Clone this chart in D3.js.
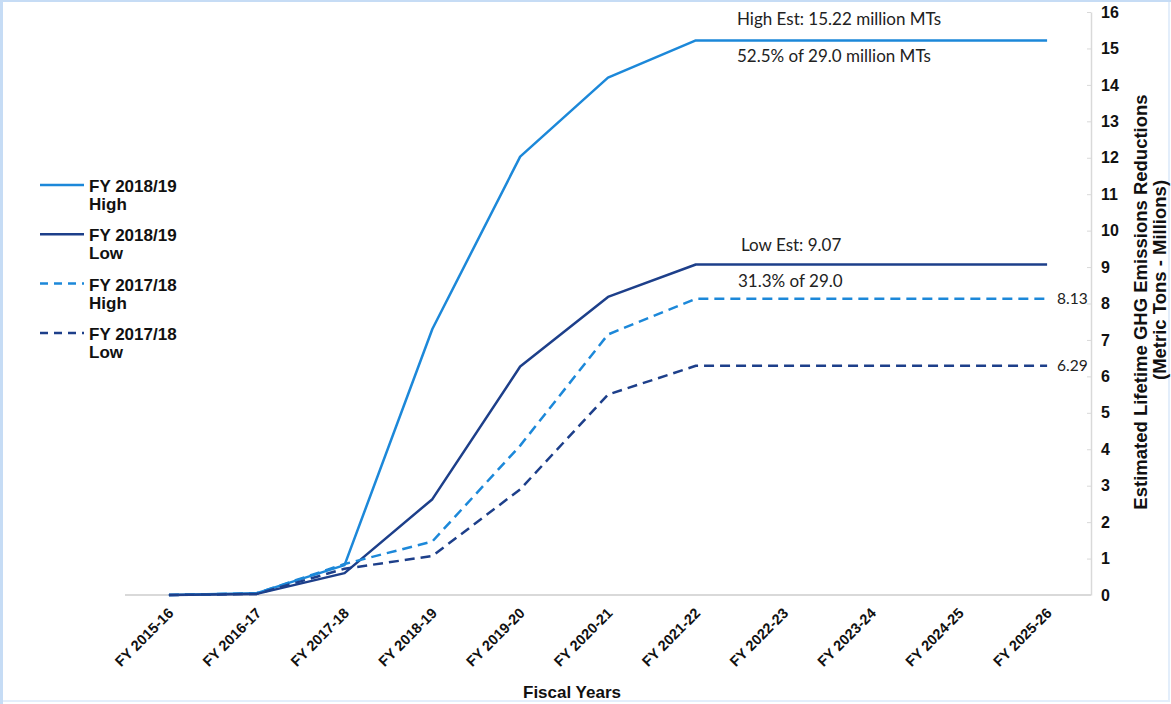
<!DOCTYPE html>
<html><head><meta charset="utf-8">
<script src="https://cdn.jsdelivr.net/npm/d3@7"></script>
<style>body{margin:0;background:#fff}svg{display:block}</style>
</head><body>
<svg id="c" width="1171" height="704"></svg>
<script>
const categories = ["FY 2015-16","FY 2016-17","FY 2017-18","FY 2018-19","FY 2019-20","FY 2020-21","FY 2021-22","FY 2022-23","FY 2023-24","FY 2024-25","FY 2025-26"];
const high1819 = [0, 0.05, 0.82, 7.3, 12.03, 14.2, 15.22, 15.22, 15.22, 15.22, 15.22];
const low1819  = [0, 0.03, 0.6, 2.63, 6.27, 8.18, 9.07, 9.07, 9.07, 9.07, 9.07];
const high1718 = [0, 0.05, 0.85, 1.47, 4.1, 7.15, 8.13, 8.13, 8.13, 8.13, 8.13];
const low1718  = [0, 0.03, 0.72, 1.07, 2.9, 5.5, 6.29, 6.29, 6.29, 6.29, 6.29];
const yTicks = [0,1,2,3,4,5,6,7,8,9,10,11,12,13,14,15,16];
const seriesNames = ["FY 2018/19|High","FY 2018/19|Low","FY 2017/18|High","FY 2017/18|Low"];

const LIGHT = "#1c88d9", DARK = "#1d3f8a";
const series = [
  {name: seriesNames[0], values: high1819, color: LIGHT, dash: null},
  {name: seriesNames[1], values: low1819, color: DARK, dash: null},
  {name: seriesNames[2], values: high1718, color: LIGHT, dash: "10,6"},
  {name: seriesNames[3], values: low1718, color: DARK, dash: "10,6"}
];

const svg = d3.select("#c");
// frame
svg.append("rect").attr("x",1).attr("y",1).attr("width",1168).attr("height",700)
  .attr("fill","none").attr("stroke","#e3eefb").attr("stroke-width",2);
svg.append("line").attr("x1",1.5).attr("x2",1.5).attr("y1",0).attr("y2",704).attr("stroke","#c6dcf5").attr("stroke-width",3);
svg.append("line").attr("x1",0).attr("x2",1171).attr("y1",1).attr("y2",1).attr("stroke","#c6dcf5").attr("stroke-width",2);

const pLeft = 125, pRight = 1091, pTop = 12, pBottom = 595;
const x = d3.scalePoint().domain(categories).range([pLeft, pRight]).padding(0.5);
const y = d3.scaleLinear().domain([0,16]).range([pBottom, pTop]);

// x baseline
svg.append("line").attr("x1",pLeft).attr("x2",pRight).attr("y1",pBottom).attr("y2",pBottom)
  .attr("stroke","#d9d9d9").attr("stroke-width",2);

// y axis on right
const yAxis = d3.axisRight(y).tickValues(yTicks).tickSize(0).tickPadding(10).tickFormat(d3.format("d"));
const ya = svg.append("g").attr("transform",`translate(${pRight},0)`).call(yAxis);
ya.select(".domain").attr("stroke","#d9d9d9").attr("stroke-width",1.5);
ya.selectAll(".tick text").attr("font-family","Liberation Sans, Arial, sans-serif")
  .attr("font-size",16).attr("font-weight","bold").attr("fill","#111").attr("x",10);
ya.selectAll(".tick").append("line").attr("x1",-4).attr("x2",0).attr("stroke","#d9d9d9");

// x axis labels
const xa = svg.append("g").attr("transform",`translate(0,${pBottom})`)
  .call(d3.axisBottom(x).tickSize(0).tickPadding(0));
xa.select(".domain").remove();
xa.selectAll(".tick text")
  .attr("font-family","Liberation Sans, Arial, sans-serif").attr("font-size",14.5).attr("font-weight","bold")
  .attr("fill","#111").attr("text-anchor","end").attr("dy",0)
  .attr("transform","translate(5,19) rotate(-45)");

// axis titles
svg.append("text").attr("x",572).attr("y",698).attr("text-anchor","middle")
  .attr("font-family","Liberation Sans, Arial, sans-serif").attr("font-size",17).attr("font-weight","bold")
  .attr("fill","#111").text("Fiscal Years");
const titleFont = {"font-family":"Liberation Sans, Arial, sans-serif","font-size":18.5,"font-weight":"bold","fill":"#111","text-anchor":"middle"};
const yt1 = svg.append("text").attr("transform","translate(1147,302) rotate(-90)").text("Estimated Lifetime GHG Emissions Reductions");
const yt2 = svg.append("text").attr("transform","translate(1166,280) rotate(-90)").text("(Metric Tons - Millions)");
[yt1, yt2].forEach(t => Object.entries(titleFont).forEach(([k,v]) => t.attr(k,v)));

// lines
const line = d3.line().x((d,i)=>x(categories[i])).y(d=>y(d));
svg.selectAll("path.series").data(series).join("path").attr("class","series")
  .attr("d",d=>line(d.values)).attr("fill","none").attr("stroke",d=>d.color)
  .attr("stroke-width",2.5).attr("stroke-dasharray",d=>d.dash).attr("stroke-linejoin","round");

// annotations
const ann = (txt, xx, yy, size) => svg.append("text").attr("x",xx).attr("y",yy)
  .attr("font-family","Lato, 'Open Sans', sans-serif")
  .attr("font-size",size).attr("fill","#222").text(txt);
const last = categories[categories.length-1];
ann("High Est: " + high1819[6] + " million MTs", 737, y(high1819[6]) - 15, 17);
ann("52.5% of 29.0 million MTs", 737, y(high1819[6]) + 22, 17);
ann("Low Est: " + low1819[6], 741, y(low1819[6]) - 14, 17);
ann("31.3% of 29.0", 738, y(low1819[6]) + 22, 17);
ann(high1718[10].toFixed(2), x(last)+10, y(high1718[10])+5, 15.5);
ann(low1718[10].toFixed(2), x(last)+10, y(low1718[10])+5, 15.5);

// legend
const lg = svg.append("g");
series.forEach((s,i)=>{
  const yy = 185 + i*49.3;
  lg.append("line").attr("x1",40).attr("x2",84).attr("y1",yy).attr("y2",yy)
    .attr("stroke",s.color).attr("stroke-width",2.5).attr("stroke-dasharray",s.dash ? "8,6" : null);
  const parts = s.name.split("|");
  const t = lg.append("text").attr("font-family","Liberation Sans, Arial, sans-serif")
    .attr("font-size",17).attr("font-weight","bold").attr("fill","#111");
  t.append("tspan").attr("x",89).attr("y",yy+7).text(parts[0]);
  t.append("tspan").attr("x",89).attr("y",yy+25).text(parts[1]);
});
</script>
</body></html>
